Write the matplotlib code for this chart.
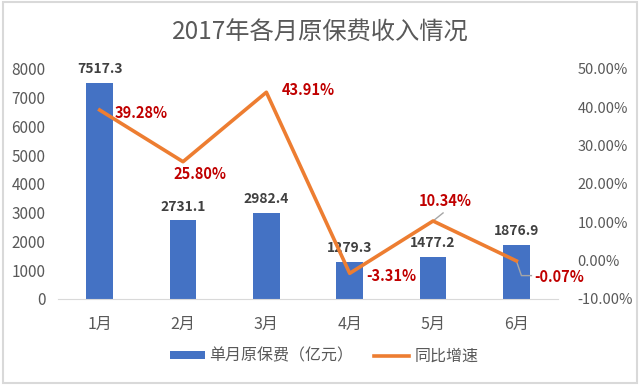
import matplotlib
matplotlib.use('Agg')
import matplotlib.pyplot as plt
from matplotlib.patches import Rectangle
from matplotlib.ticker import FuncFormatter

plt.rcParams['font.family'] = ['Noto Sans CJK SC', 'DejaVu Sans']

months = ['1月', '2月', '3月', '4月', '5月', '6月']
premium = [7517.3, 2731.1, 2982.4, 1279.3, 1477.2, 1876.9]
growth = [39.28, 25.80, 43.91, -3.31, 10.34, -0.07]

fig = plt.figure(figsize=(6.4, 3.85), dpi=100)
fig.patches.append(Rectangle((0.004, 0.004), 0.992, 0.992, transform=fig.transFigure,
                             fill=False, edgecolor='#D9D9D9', linewidth=1.5))
ax = fig.add_axes([0.0906, 0.2234, 0.7814, 0.5976])
x = list(range(len(months)))

bars = ax.bar(x, premium, width=0.32, color='#4472C4', label='单月原保费（亿元）', zorder=2)
ax.set_ylim(0, 8000)
ax.set_xlim(-0.5, 5.5)
ax.set_yticks(range(0, 8001, 1000))
ax.set_xticks(x)
ax.set_xticklabels(months)
for s in ['top', 'left', 'right']:
    ax.spines[s].set_visible(False)
ax.spines['bottom'].set_color('#D9D9D9')
ax.tick_params(axis='both', length=0, colors='#595959', labelsize=11)
ax.tick_params(axis='y', pad=9)
ax.tick_params(axis='x', pad=12, labelsize=11.5)

for xi, v in zip(x, premium):
    ax.annotate(f'{v:.1f}', (xi, v), xytext=(0, 5), textcoords='offset points',
                ha='center', va='bottom', fontsize=10, fontweight='bold', color='#404040')

ax2 = ax.twinx()
ax2.plot(x, growth, color='#ED7D31', linewidth=2.6, label='同比增速', zorder=3)
ax2.set_ylim(-10, 50)
ax2.set_yticks(range(-10, 51, 10))
ax2.yaxis.set_major_formatter(FuncFormatter(lambda v, p: f'{v:.2f}%'))
for s in ['top', 'left', 'right', 'bottom']:
    ax2.spines[s].set_visible(False)
ax2.tick_params(axis='y', length=0, colors='#595959', labelsize=10.5, pad=14)

red = '#C00000'
offsets = [(11, -2, 'left'), (-7, -9, 'left'), (11, 1.5, 'left'),
           (12, -2, 'left'), (9, 14.5, 'center'), (13, -11.5, 'left')]
for (xi, v), (dx, dy, ha) in zip(zip(x, growth), offsets):
    ax2.annotate(f'{v:.2f}%', (xi, v), xytext=(dx, dy), textcoords='offset points',
                 ha=ha, va='center', fontsize=10.5, fontweight='bold', color=red)
# leader lines
ax2.plot([x[4], x[4] + 0.12], [growth[4], growth[4] + 2.1], color='#A6A6A6', lw=1, zorder=2)
ax2.plot([x[5], x[5] + 0.06, x[5] + 0.18], [growth[5], -3.9, -3.9], color='#A6A6A6', lw=1, zorder=2)

h1, l1 = ax.get_legend_handles_labels()
h2, l2 = ax2.get_legend_handles_labels()
fig.legend(h1 + h2, l1 + l2, loc='center', bbox_to_anchor=(0.506, 0.075), ncol=2,
           frameon=False, fontsize=11.5, labelcolor='#595959', handlelength=2.2,
           handletextpad=0.3, columnspacing=1.3, handleheight=0.45)

fig.text(0.5, 0.915, '2017年各月原保费收入情况', ha='center', va='center',
         fontsize=17.5, color='#595959')

fig.savefig('out.png', dpi=100)
